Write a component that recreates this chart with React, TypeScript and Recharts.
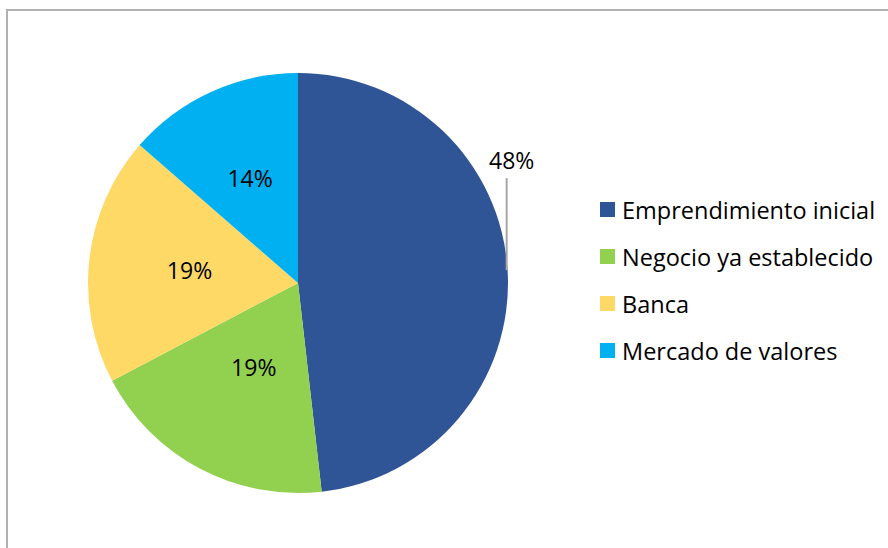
import { PieChart, Pie, Cell, Legend } from "recharts";

const categories = [
  "Emprendimiento inicial",
  "Negocio ya establecido",
  "Banca",
  "Mercado de valores",
];
const shares = [48.2, 19.1, 19.1, 13.6];
const colors = ["#2F5597", "#92D050", "#FFD966", "#00B0F0"];

// inside label distance from centre, per slice (as fraction of radius)
const labelRadius = [0, 0.45, 0.52, 0.55];

const data = categories.map((name, i) => ({ name, value: shares[i] }));

const FONT = "'Open Sans', Lato, sans-serif";
const RAD = Math.PI / 180;

function renderLabel(props: any) {
  const { cx, cy, midAngle, outerRadius, percent, index } = props;
  const text = `${Math.round(percent * 100)}%`;
  if (percent > 0.4) {
    const x = cx + outerRadius * Math.cos(-midAngle * RAD);
    const y = cy + outerRadius * Math.sin(-midAngle * RAD);
    return (
      <g>
        <line x1={x - 1} y1={y - 1} x2={x - 1} y2={y - 93} stroke="#a6a6a6" strokeWidth={2} />
        <text x={x + 4} y={y - 102} textAnchor="middle" fill="#000" fontSize={23} fontFamily={FONT}>
          {text}
        </text>
      </g>
    );
  }
  const r = outerRadius * labelRadius[index];
  const x = cx + r * Math.cos(-midAngle * RAD);
  const y = cy + r * Math.sin(-midAngle * RAD);
  return (
    <text x={x} y={y} textAnchor="middle" dominantBaseline="central" fill="#000" fontSize={23} fontFamily={FONT}>
      {text}
    </text>
  );
}

function LegendBox() {
  return (
    <div style={{ fontFamily: FONT, fontSize: 23.5, color: "#000" }}>
      {data.map((d, i) => (
        <div key={d.name} style={{ display: "flex", alignItems: "center", height: 47 }}>
          <span style={{ width: 15, height: 15, background: colors[i], marginRight: 7, flexShrink: 0 }} />
          <span style={{ whiteSpace: "nowrap" }}>{d.name}</span>
        </div>
      ))}
    </div>
  );
}

export default function App() {
  return (
    <div style={{ position: "absolute", left: 0, top: 0, width: 888, height: 548, background: "#fff", overflow: "hidden" }}>
      <div
        style={{
          position: "absolute",
          left: 6,
          top: 9,
          width: 900,
          height: 600,
          borderTop: "2px solid #b0b0b0",
          borderLeft: "2px solid #b0b0b0",
        }}
      />
      <PieChart
        width={888}
        height={548}
        margin={{ top: 0, right: 0, bottom: 0, left: 0 }}
        style={{ position: "absolute", left: 0, top: 0 }}
      >
        <Pie
          data={data}
          dataKey="value"
          nameKey="name"
          cx={298}
          cy={283}
          outerRadius={210}
          startAngle={90}
          endAngle={-270}
          stroke="none"
          label={renderLabel}
          labelLine={false}
          isAnimationActive={false}
        >
          {data.map((d, i) => (
            <Cell key={d.name} fill={colors[i]} />
          ))}
        </Pie>
        <Legend
          layout="vertical"
          content={<LegendBox />}
          wrapperStyle={{ left: 600, top: 186, width: 288 }}
        />
      </PieChart>
    </div>
  );
}
